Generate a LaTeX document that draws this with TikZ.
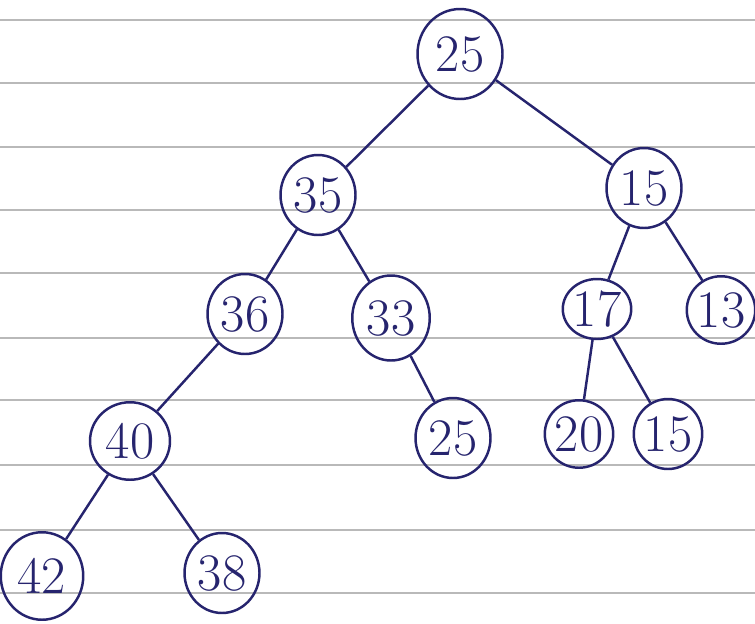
\documentclass[tikz,border=0pt]{standalone}
\usepackage{xcolor}
\usepackage{tikz}
\usetikzlibrary{shapes.geometric}
\definecolor{ink}{RGB}{38,36,110}
\definecolor{rule}{RGB}{185,185,185}

\begin{document}
\begin{tikzpicture}[
    x=0.02cm, y=-0.02cm,
    key/.style={draw=ink, ellipse, line width=1.4pt, inner sep=0pt, minimum width=1.5cm, minimum height=1.6cm, text=ink, font=\fontsize{30}{30}\selectfont},
    edge/.style={draw=ink, line width=1.4pt}
]
\useasboundingbox (0,0) rectangle (755,623);
\fill[white] (0,0) rectangle (755,623);

% ruled paper
\foreach \ly in {20,83,147,210,273,338,400,465,530,593}
    \draw[rule, line width=1.2pt] (0,\ly) -- (755,\ly);

\node[key, minimum width=1.7cm, minimum height=1.8cm] (v25) at (460,54) {25};
\node[key] (v35) at (318,195) {35};
\node[key] (v15) at (644,188) {15};
\node[key] (v36) at (245,314) {36};
\node[key, minimum width=1.55cm, minimum height=1.7cm] (v33) at (391,318) {33};
\node[key, minimum width=1.2cm, minimum height=1.2cm] (v17) at (597,309) {17};
\node[key, minimum width=1.1cm, minimum height=1.35cm] (v13) at (721,310) {13};
\node[key, minimum width=1.6cm, minimum height=1.55cm] (v40) at (130,441) {40};
\node[key] (v25b) at (453,438) {25};
\node[key, minimum width=1.25cm, minimum height=1.35cm] (v20) at (579,434) {20};
\node[key, minimum width=1.15cm, minimum height=1.4cm] (v15b) at (668,434) {15};
\node[key, minimum width=1.65cm, minimum height=1.75cm] (v42) at (42,576) {42};
\node[key] (v38) at (222,573) {38};

\draw[edge] (v25) -- (v35);
\draw[edge] (v25) -- (v15);
\draw[edge] (v35) -- (v36);
\draw[edge] (v35) -- (v33);
\draw[edge] (v15) -- (v17);
\draw[edge] (v15) -- (v13);
\draw[edge] (v36) -- (v40);
\draw[edge] (v33) -- (v25b);
\draw[edge] (v17) -- (v20);
\draw[edge] (v17) -- (v15b);
\draw[edge] (v40) -- (v42);
\draw[edge] (v40) -- (v38);
\end{tikzpicture}
\end{document}
